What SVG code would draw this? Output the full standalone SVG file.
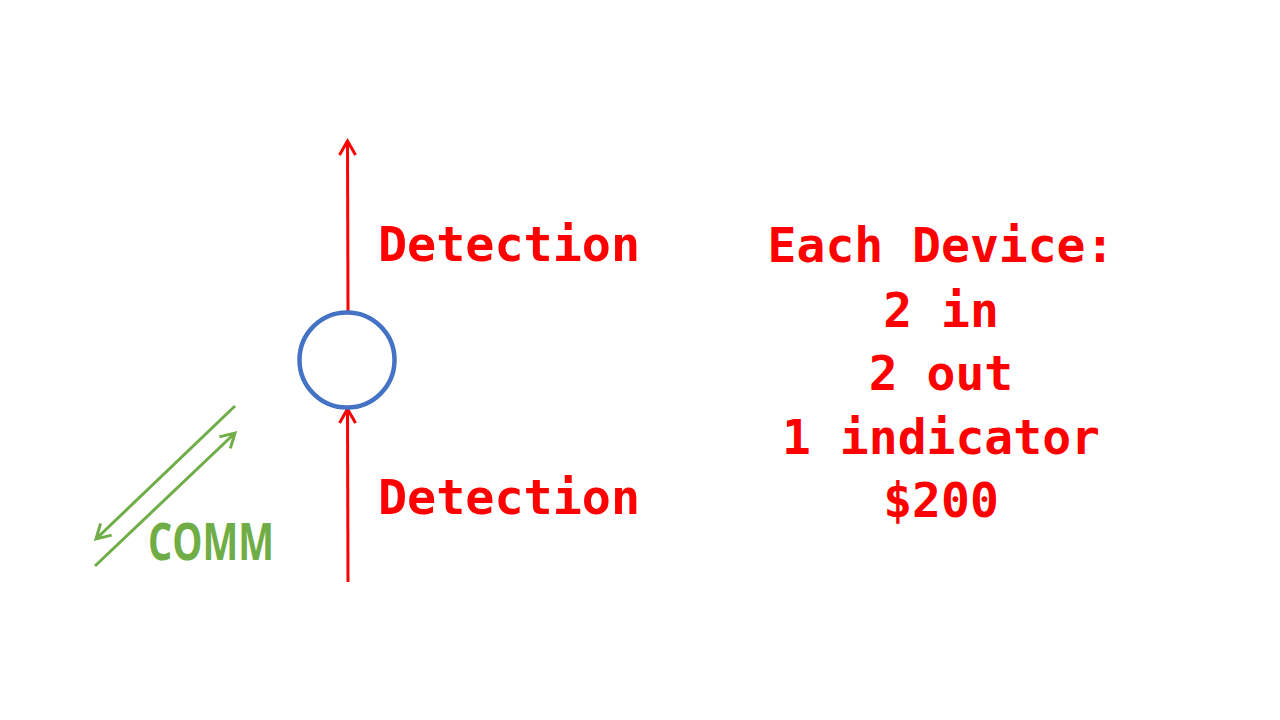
<svg xmlns="http://www.w3.org/2000/svg" width="1280" height="720" viewBox="0 0 1280 720">
<style>
.red{fill:#FF0000;font-family:"DejaVu Sans Mono","Liberation Mono",monospace;font-weight:bold;font-size:48px}
.rl{stroke:#FF0000;stroke-width:3;fill:none}
.gl{stroke:#70AD47;stroke-width:3;fill:none}
</style>
<defs>
<marker id="ar" viewBox="0 0 20 20" refX="16" refY="10" markerWidth="20" markerHeight="20" markerUnits="userSpaceOnUse" orient="auto">
<path d="M2,2 L16,10 L2,18" fill="none" stroke="#FF0000" stroke-width="3"/>
</marker>
<marker id="ag" viewBox="0 0 20 20" refX="16" refY="10" markerWidth="20" markerHeight="20" markerUnits="userSpaceOnUse" orient="auto">
<path d="M2,2 L16,10 L2,18" fill="none" stroke="#70AD47" stroke-width="3"/>
</marker>
</defs>
<rect width="1280" height="720" fill="#FFFFFF"/>
<g id="connectors">
<line class="rl" x1="348" y1="312" x2="347.5" y2="141" marker-end="url(#ar)"/>
<line class="rl" x1="348" y1="582" x2="347.5" y2="409" marker-end="url(#ar)"/>
<line class="gl" x1="235" y1="406" x2="96" y2="539" marker-end="url(#ag)"/>
<line class="gl" x1="95" y1="566" x2="235" y2="433" marker-end="url(#ag)"/>
</g>
<g id="device">
<circle cx="347" cy="360" r="47.5" fill="#FFFFFF" stroke="#4472C4" stroke-width="4.5"/>
</g>
<g id="labels">
<text class="red" x="378" y="261" textLength="262" lengthAdjust="spacingAndGlyphs">Detection</text>
<text class="red" x="378" y="514" textLength="262" lengthAdjust="spacingAndGlyphs">Detection</text>
<text x="148" y="560" fill="#70AD47" font-family="'Open Sans','Liberation Sans',sans-serif" font-weight="bold" font-size="52" textLength="126" lengthAdjust="spacingAndGlyphs">COMM</text>
</g>
<g id="info" text-anchor="middle">
<text class="red" x="941" y="262">Each Device:</text>
<text class="red" x="941" y="327">2 in</text>
<text class="red" x="941" y="390">2 out</text>
<text class="red" x="941" y="454">1 indicator</text>
<text class="red" x="941" y="517">$200</text>
</g>
</svg>
